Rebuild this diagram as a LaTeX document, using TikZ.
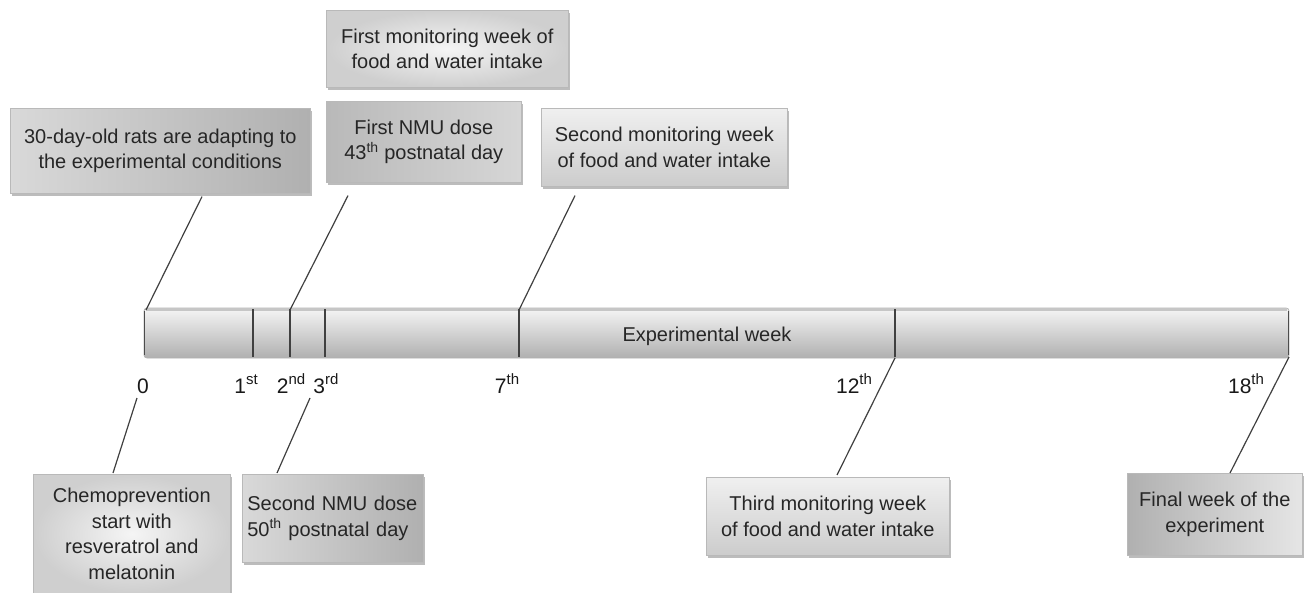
\documentclass[tikz,border=0pt]{standalone}
\usepackage{fontspec}
\setmainfont{Liberation Sans}
\usetikzlibrary{shadows,calc}
\newcommand{\supx}[1]{\raisebox{0.42em}{\fontsize{15}{16}\selectfont #1}}
\begin{document}
\begin{tikzpicture}[x=1pt,y=-1pt,
  every node/.style={font=\fontsize{20}{25.5}\selectfont, text=black!85},
  infobox/.style={draw=gray!55, line width=0.6pt, inner sep=0pt, anchor=north west,
    align=center,
    drop shadow={shadow xshift=2pt, shadow yshift=-2.5pt, fill=gray!75, opacity=0.7}},
  lightradial/.style={infobox, inner color=gray!8, outer color=gray!38},
  lighttop/.style={infobox, top color=gray!12, bottom color=gray!40},
  darkright/.style={infobox, left color=gray!30, middle color=gray!14, right color=gray!62},
  darkleft/.style={infobox, left color=gray!62, middle color=gray!40, right color=gray!20},
  darkbox/.style={infobox, left color=gray!55, middle color=gray!45, right color=gray!32},
  conn/.style={draw=black!75, line width=1.2pt},
  divider/.style={draw=black!75, line width=1.3pt},
  ticklabel/.style={font=\fontsize{21}{22}\selectfont, anchor=base, text=black!90}
]
\useasboundingbox (0,0) rectangle (1305,593);

% ---- timeline bar ----
\shade[top color=gray!8, middle color=gray!28, bottom color=gray!62,
  draw=gray!60, line width=0.8pt, rounded corners=3pt]
  (144,308) rectangle (1289,358);
\fill[gray!45] (146,308.4) rectangle (1287,310.5);
\draw[black!70, line width=1.6pt] (144.5,311) -- (144.5,355);
\draw[black!70, line width=1.6pt] (1288.5,311) -- (1288.5,355);
\node (expweek) at (707,336) {Experimental week};

% named tick coordinates on bar
\coordinate (t0top) at (146,310);
\coordinate (t2top) at (290,310);
\coordinate (t7top) at (519,310);
\coordinate (t12bot) at (895,358);
\coordinate (t18bot) at (1289,357);
\coordinate (d1a) at (253,309); \coordinate (d1b) at (253,357);
\coordinate (d2a) at (290,309); \coordinate (d2b) at (290,357);
\coordinate (d3a) at (325,309); \coordinate (d3b) at (325,357);
\coordinate (d7a) at (519,309); \coordinate (d7b) at (519,357);
\coordinate (d12a) at (895,309); \coordinate (d12b) at (895,357);
\draw[divider] (d1a) -- (d1b);
\draw[divider] (d2a) -- (d2b);
\draw[divider] (d3a) -- (d3b);
\draw[divider] (d7a) -- (d7b);
\draw[divider] (d12a) -- (d12b);

% ---- tick labels ----
\node[ticklabel] (l0) at (143,393) {0};
\node[ticklabel] (l1) at (246,393) {1\supx{st}};
\node[ticklabel] (l2) at (291,393) {2\supx{nd}};
\node[ticklabel] (l3) at (326,393) {3\supx{rd}};
\node[ticklabel] (l7) at (507,393) {7\supx{th}};
\node[ticklabel] (l12) at (854,393) {12\supx{th}};
\node[ticklabel] (l18) at (1246,393) {18\supx{th}};

% ---- upper boxes ----
\node[lightradial, minimum width=242pt, minimum height=77pt] (fm) at (326,10)
  {First monitoring week of\\food and water intake};
\node[darkright, minimum width=300pt, minimum height=85pt] (d30) at (10,108)
  {30-day-old rats are adapting to\\the experimental conditions};
\node[darkbox, minimum width=195pt, minimum height=81pt] (nmu1) at (326,101)
  {First NMU dose\\43\textsuperscript{th} postnatal day};
\node[lighttop, minimum width=246pt, minimum height=78pt] (sm) at (541,108)
  {Second monitoring week\\of food and water intake};

% ---- lower boxes ----
\node[lightradial, minimum width=197pt, minimum height=119pt] (chemo) at (33,474)
  {Chemoprevention\\start with\\resveratrol and\\melatonin};
\node[darkright, minimum width=181pt, minimum height=88pt, align=left,
  text width=171pt] (nmu2) at (242,474)
  {Second NMU dose\\50\textsuperscript{th} postnatal day};
\node[lighttop, minimum width=243pt, minimum height=78pt] (third) at (706,477)
  {Third monitoring week\\of food and water intake};
\node[darkleft, minimum width=175pt, minimum height=82pt] (final) at (1127,473)
  {Final week of the\\experiment};

% ---- connector end points at boxes ----
\coordinate (c30) at ($(d30.south west)+(192,3)$);
\coordinate (cnmu1) at ($(nmu1.south west)+(22,13)$);
\coordinate (csm) at ($(sm.south west)+(34,9)$);
\coordinate (cchemo) at ($(chemo.north west)+(80,-1)$);
\coordinate (cnmu2) at ($(nmu2.north west)+(35,-1)$);
\coordinate (cthird) at ($(third.north west)+(131,-2)$);
\coordinate (cfinal) at ($(final.north west)+(103,0)$);
\coordinate (l0b) at (137,398);
\coordinate (l3b) at (310,398);

% ---- connectors ----
\draw[conn] (c30) -- (t0top);
\draw[conn] (cnmu1) -- (t2top);
\draw[conn] (csm) -- (t7top);
\draw[conn] (l0b) -- (cchemo);
\draw[conn] (l3b) -- (cnmu2);
\draw[conn] (t12bot) -- (cthird);
\draw[conn] (t18bot) -- (cfinal);
\end{tikzpicture}
\end{document}
